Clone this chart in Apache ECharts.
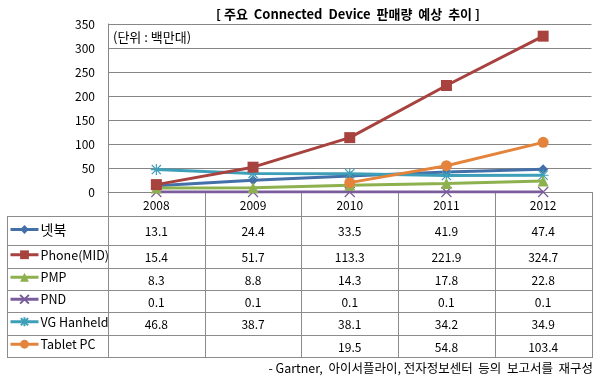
<!DOCTYPE html>
<html><head><meta charset="utf-8">
<script src="https://cdn.jsdelivr.net/npm/echarts@6/dist/echarts.min.js"></script>
<style>html,body{margin:0;padding:0;background:#fff}#c{width:597px;height:380px}</style>
</head><body><div id="c"></div>
<script>
const categories = ['2008','2009','2010','2011','2012'];
const seriesNames = ['넷북','Phone(MID)','PMP','PND','VG Hanheld','Tablet PC'];
const netbook = [13.1, 24.4, 33.5, 41.9, 47.4];
const phone = [15.4, 51.7, 113.3, 221.9, 324.7];
const pmp = [8.3, 8.8, 14.3, 17.8, 22.8];
const pnd = [0.1, 0.1, 0.1, 0.1, 0.1];
const vg = [46.8, 38.7, 38.1, 34.2, 34.9];
const tablet = [null, null, 19.5, 54.8, 103.4];
const tableLabels = [
  ['13.1','24.4','33.5','41.9','47.4'],
  ['15.4','51.7','113.3','221.9','324.7'],
  ['8.3','8.8','14.3','17.8','22.8'],
  ['0.1','0.1','0.1','0.1','0.1'],
  ['46.8','38.7','38.1','34.2','34.9'],
  ['','','19.5','54.8','103.4']
];
const yTicks = [0, 50, 100, 150, 200, 250, 300, 350];
const titleText = '[ 주요  Connected  Device  판매량  예상  추이 ]';
const unitText = '(단위 : 백만대)';
const footText = '- Gartner,  아이서플라이, 전자정보센터  등의  보고서를  재구성';

const FONT = '"Noto Sans CJK KR", "Noto Sans", sans-serif';
const colors = ['#4470AA','#A8423E','#8DB14E','#7A5C9C','#3E9FB8','#E4843C'];
const symbols = ['diamond','rect','triangle','path://M0,0L10,10M10,0L0,10','path://M0,0L10,10M10,0L0,10M5,-1L5,11M-1,5L11,5','circle'];
const symbolSizes = [10, 11, 11, 10, 11, 11];
const values = [netbook, phone, pmp, pnd, vg, tablet];

const gridLeft = 108, gridTop = 24, gridRight = 5.5, plotBottom = 192;
const tableTop = 216, tableBottom = 357, tableLeft = 7;
const rowLines = [216, 245, 268, 290, 312, 335, 357];

const chart = echarts.init(document.getElementById('c'), null, {renderer: 'canvas'});

const series = values.map((v, i) => {
  const isPath = symbols[i].indexOf('path://') === 0;
  return {
    name: seriesNames[i], type: 'line', data: v,
    symbol: symbols[i], symbolSize: symbolSizes[i],
    lineStyle: {color: colors[i], width: 3},
    itemStyle: isPath ? {color: 'rgba(0,0,0,0)', borderColor: colors[i], borderWidth: 1.2} : {color: colors[i]},
    z: [3, 6, 4, 2, 3, 5][i],
    animation: false, connectNulls: false
  };
});

const legends = seriesNames.map((n, i) => {
  const c = (rowLines[i] + rowLines[i + 1]) / 2;
  return {
    data: [n], left: 9, top: c - 8, itemWidth: 28, itemHeight: 11, itemGap: 2,
    selectedMode: false, padding: 0,
    lineStyle: {width: 3},
    textStyle: {fontFamily: FONT, fontSize: i === 0 ? 14 : 12.5, color: '#000', padding: [0,0,0,-3]}
  };
});

chart.setOption({
  animation: false,
  color: colors,
  grid: {left: gridLeft, right: gridRight, top: gridTop, bottom: 380 - plotBottom},
  xAxis: {
    type: 'category', data: categories, boundaryGap: true,
    axisLine: {show: true, lineStyle: {color: '#868686', width: 1}},
    axisTick: {show: false},
    axisLabel: {margin: 7, fontFamily: FONT, fontSize: 12, color: '#000'}
  },
  yAxis: {
    type: 'value', min: 0, max: 350, interval: 50,
    axisLine: {show: true, lineStyle: {color: '#868686'}},
    axisTick: {show: false},
    axisLabel: {margin: 13, fontFamily: FONT, fontSize: 12, color: '#000',
      formatter: v => yTicks.indexOf(v) >= 0 ? String(v) : ''},
    splitLine: {show: true, lineStyle: {color: '#868686', width: 1}}
  },
  legend: legends,
  series: series
});

// Build table and texts
const elements = [];
const lc = '#8c8c8c';
const colEdges = [];
for (let i = 0; i <= categories.length; i++) {
  const p0 = chart.convertToPixel({xAxisIndex: 0}, 0);
  const p1 = chart.convertToPixel({xAxisIndex: 0}, 1);
  const w = p1 - p0;
  colEdges.push(p0 - w / 2 + i * w);
}
const xRight = colEdges[colEdges.length - 1];
colEdges.forEach(x => {
  elements.push({type: 'line', shape: {x1: Math.round(x) + 0.5, y1: plotBottom, x2: Math.round(x) + 0.5, y2: tableBottom},
    style: {stroke: lc, lineWidth: 1}, silent: true});
});
elements.push({type: 'line', shape: {x1: tableLeft + 0.5, y1: tableTop, x2: tableLeft + 0.5, y2: tableBottom},
  style: {stroke: lc, lineWidth: 1}, silent: true});
rowLines.forEach(y => {
  elements.push({type: 'line', shape: {x1: tableLeft, y1: y + 0.5, x2: Math.round(xRight) + 1, y2: y + 0.5},
    style: {stroke: lc, lineWidth: 1}, silent: true});
});
tableLabels.forEach((row, r) => {
  const cy = (rowLines[r] + rowLines[r + 1]) / 2 + 1;
  row.forEach((t, c) => {
    const cx = chart.convertToPixel({xAxisIndex: 0}, c);
    elements.push({type: 'text', x: cx, y: cy, silent: true,
      style: {text: t, fontFamily: FONT, fontSize: 12, fill: '#000', align: 'center', verticalAlign: 'middle'}});
  });
});
elements.push({type: 'text', x: 348, y: 14, silent: true,
  style: {text: titleText, fontFamily: FONT, fontSize: 13, fontWeight: 'bold', fill: '#000', align: 'center', verticalAlign: 'middle'}});
elements.push({type: 'text', x: 113, y: 37, silent: true,
  style: {text: unitText, fontFamily: FONT, fontSize: 13, fill: '#000', align: 'left', verticalAlign: 'middle'}});
elements.push({type: 'text', x: 593, y: 368, silent: true,
  style: {text: footText, fontFamily: FONT, fontSize: 12.5, fill: '#000', align: 'right', verticalAlign: 'middle'}});

chart.setOption({graphic: {elements: elements}});
</script>
</body></html>
